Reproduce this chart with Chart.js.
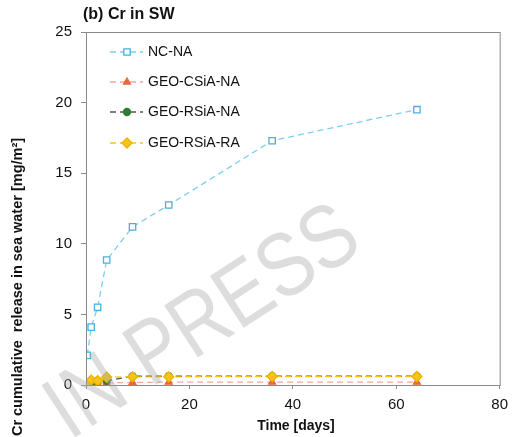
<!DOCTYPE html>
<html>
<head>
<meta charset="utf-8">
<script src="https://cdn.jsdelivr.net/npm/chart.js@4.4.1/dist/chart.umd.min.js"></script>
<style>
  html, body { margin: 0; padding: 0; background: #fff; }
  #wrap { width: 515px; height: 437px; }
</style>
</head>
<body>
<div id="wrap"><canvas id="chart" width="515" height="437"></canvas></div>
<script>
// Cr release in sea water (tank test)

// Data
const days = [0.25, 1, 2.25, 4, 9, 16, 36, 64];
const ncNA = [2.1, 4.1, 5.5, 8.85, 11.2, 12.75, 17.3, 19.5];
const geoCSiANA = [0.02, 0.08, 0.1, 0.15, 0.18, 0.2, 0.2, 0.2];
const geoRSiANA = [0.0, 0.2, 0.3, 0.3, 0.62, 0.62, 0.62, 0.62];
const geoRSiARA = [0.1, 0.35, 0.3, 0.55, 0.58, 0.58, 0.6, 0.6];
const seriesNames = ['NC-NA', 'GEO-CSiA-NA', 'GEO-RSiA-NA', 'GEO-RSiA-RA'];
const xTicks = [0, 20, 40, 60, 80];
const yTicks = [0, 5, 10, 15, 20, 25];

const FONT = 'Arial, "Liberation Sans", sans-serif';

function toPoints(values) {
  return days.map((d, i) => ({ x: d, y: values[i] }));
}

// order: lower number is drawn on top
function makeSet(label, values, lineColor, markerColor, fill, style, radius, order) {
  return {
    label: label,
    data: toPoints(values),
    borderColor: lineColor,
    borderWidth: 1.3,
    borderDash: [6, 4],
    pointStyle: style,
    pointRadius: radius,
    pointBorderColor: markerColor,
    pointBackgroundColor: fill,
    pointBorderWidth: 1.3,
    tension: 0,
    order: order
  };
}

const datasets = [
  makeSet(seriesNames[0], ncNA, '#7fcdf0', '#4aaee3', '#ffffff', 'rect', 4.5, 0),
  makeSet(seriesNames[1], geoCSiANA, '#f7a3a3', '#e8683a', '#e8683a', 'triangle', 4, 3),
  makeSet(seriesNames[2], geoRSiANA, '#555555', '#2f7d32', '#2f7d32', 'circle', 3.5, 2),
  makeSet(seriesNames[3], geoRSiARA, '#f5c518', '#f0b400', '#f5c518', 'rectRot', 5, 1)
];

// Legend inside the plot, top left
const innerLegend = {
  id: 'innerLegend',
  afterDatasetsDraw(chart) {
    const ctx = chart.ctx;
    const rowY = [52, 82, 112, 143];
    ctx.save();
    chart.data.datasets.forEach((ds, i) => {
      const y = rowY[i];
      ctx.strokeStyle = ds.borderColor;
      ctx.lineWidth = ds.borderWidth;
      ctx.setLineDash(ds.borderDash);
      ctx.beginPath();
      ctx.moveTo(110, y);
      ctx.lineTo(143, y);
      ctx.stroke();
      ctx.setLineDash([]);
      ctx.fillStyle = ds.pointBackgroundColor;
      ctx.strokeStyle = ds.pointBorderColor;
      ctx.lineWidth = ds.pointBorderWidth;
      Chart.helpers.drawPoint(ctx, { pointStyle: ds.pointStyle, radius: ds.pointRadius, borderWidth: ds.pointBorderWidth }, 127, y);
      ctx.fillStyle = '#111';
      ctx.font = '14px ' + FONT;
      ctx.textAlign = 'left';
      ctx.textBaseline = 'middle';
      ctx.fillText(ds.label, 148, y);
    });
    ctx.restore();
  }
};

// Frame, titles and watermark
const decorations = {
  id: 'decorations',
  afterDraw(chart) {
    const ctx = chart.ctx;
    const a = chart.chartArea;
    ctx.save();
    ctx.strokeStyle = '#8a8a8a';
    ctx.lineWidth = 1;
    ctx.strokeRect(a.left + 0.5, a.top + 0.5, a.right - a.left, a.bottom - a.top);

    ctx.fillStyle = '#111';
    ctx.font = 'bold 16px ' + FONT;
    ctx.textAlign = 'left';
    ctx.textBaseline = 'middle';
    ctx.fillText('(b) Cr in SW', 83, 15);

    ctx.font = 'bold 14px ' + FONT;
    ctx.textAlign = 'center';
    ctx.fillText('Time [days]', 296, 426);

    ctx.translate(18, 287);
    ctx.rotate(-Math.PI / 2);
    ctx.font = 'bold 14.5px ' + FONT;
    ctx.fillText('Cr cumulative  release in sea water [mg/m\u00b2]', 0, 0);
    ctx.restore();

    // watermark
    ctx.save();
    ctx.translate(200, 318);
    ctx.rotate(-33 * Math.PI / 180);
    ctx.scale(0.84, 1);
    ctx.fillStyle = 'rgba(170, 170, 170, 0.4)';
    ctx.font = '90px ' + FONT;
    ctx.textAlign = 'center';
    ctx.textBaseline = 'alphabetic';
    ctx.fillText('IN PRESS', 0, 32);
    ctx.restore();
  }
};

new Chart(document.getElementById('chart'), {
  type: 'line',
  data: { datasets: datasets },
  options: {
    responsive: false,
    animation: false,
    layout: { padding: { top: 32, right: 9, left: 0, bottom: 0 } },
    plugins: {
      legend: { display: false },
      tooltip: { enabled: false }
    },
    scales: {
      x: {
        type: 'linear',
        min: 0,
        max: 80,
        afterBuildTicks: (scale) => { scale.ticks = xTicks.map(v => ({ value: v })); },
        afterFit: (scale) => { scale.height = 52; },
        grid: { drawOnChartArea: false, drawTicks: true, tickLength: 4, color: '#8a8a8a' },
        border: { color: '#8a8a8a' },
        ticks: { color: '#111', font: { size: 15, family: FONT }, padding: 7, maxRotation: 0 }
      },
      y: {
        type: 'linear',
        min: 0,
        max: 25,
        afterBuildTicks: (scale) => { scale.ticks = yTicks.map(v => ({ value: v })); },
        afterFit: (scale) => { scale.width = 86; },
        grid: { drawOnChartArea: false, drawTicks: true, tickLength: 5, color: '#8a8a8a' },
        border: { color: '#8a8a8a' },
        ticks: { color: '#111', font: { size: 15, family: FONT }, padding: 9 }
      }
    }
  },
  plugins: [innerLegend, decorations]
});
</script>
</body>
</html>
